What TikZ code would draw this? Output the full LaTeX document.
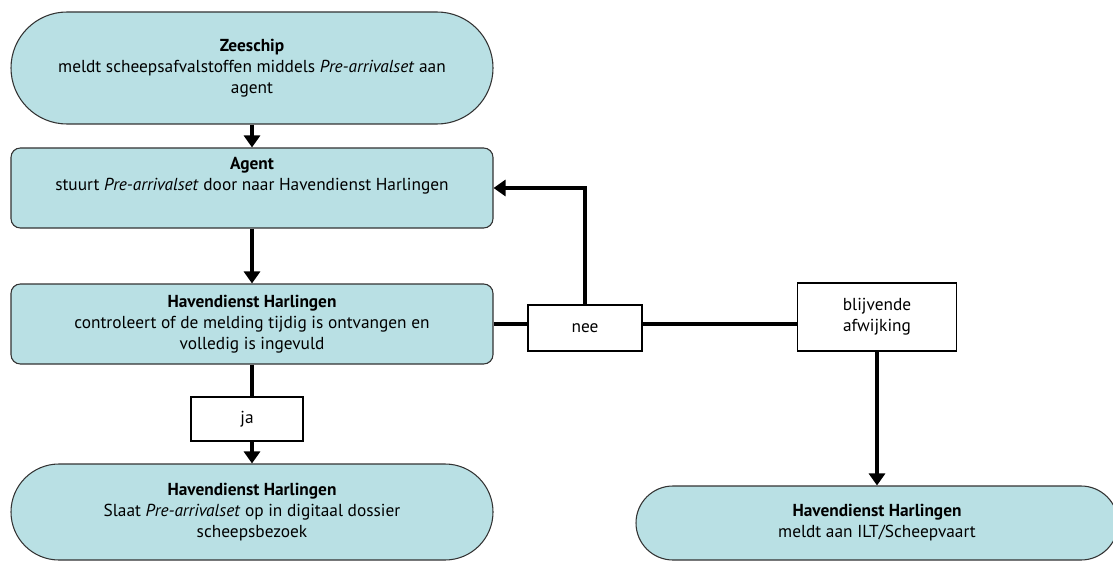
\documentclass[tikz,border=0pt]{standalone}
\usepackage{fontspec}
\setmainfont{PT Sans}
\usetikzlibrary{arrows.meta}
\definecolor{tealfill}{HTML}{B9E0E4}

\begin{document}
\begin{tikzpicture}[x=0.75pt,y=-0.75pt,
    every node/.style={font=\fontsize{13}{15.8}\selectfont, align=center},
    stap/.style={draw=black!80, line width=0.8pt, fill=tealfill, inner sep=0pt, minimum width=361.5pt},
    keuze/.style={draw=black, line width=1.1pt, fill=white, inner sep=0pt},
    lijn/.style={line width=3.4pt},
    pijl/.style={line width=3.4pt, -{Triangle[length=9pt,width=12pt]}}]
    \useasboundingbox (0,0) rectangle (1113,563);

    % Processtappen
    \node[stap, minimum height=84pt, rounded corners=42pt] (zee) at (252,68)
        {\textbf{Zeeschip}\\ meldt scheepsafvalstoffen middels \textit{Pre-arrivalset} aan\\ agent};
    \node[stap, minimum height=60pt, rounded corners=7pt] (agent) at (252,188)
        {\textbf{Agent}\\ stuurt \textit{Pre-arrivalset} door naar Havendienst Harlingen\\ \strut};
    \node[stap, minimum height=60pt, rounded corners=7pt] (hh1) at (252,324)
        {\textbf{Havendienst Harlingen}\\ controleert of de melding tijdig is ontvangen en\\ volledig is ingevuld};
    \node[stap, minimum height=72pt, rounded corners=36pt] (dossier) at (252,512)
        {\textbf{Havendienst Harlingen}\\ Slaat \textit{Pre-arrivalset} op in digitaal dossier\\ scheepsbezoek};
    \node[stap, minimum height=55.5pt, rounded corners=27.75pt] (ilt) at (877,523)
        {\textbf{Havendienst Harlingen}\\ meldt aan ILT/Scheepvaart};

    % Keuzes
    \node[keuze, minimum width=84pt, minimum height=33pt] (ja) at (247,419) {ja};
    \node[keuze, minimum width=85.5pt, minimum height=34.5pt] (nee) at (585,328) {nee};
    \node[keuze, minimum width=119pt, minimum height=51pt] (blijv) at (877,317) {blijvende\\ afwijking};

    % Verbindingen
    \draw[pijl] (zee) -- (agent);
    \draw[pijl] (agent) -- (hh1);
    \draw[lijn] (hh1.south) -- (hh1.south |- ja.north);
    \draw[pijl] (ja.south -| hh1.south) -- (dossier.north);
    \draw[lijn] (hh1.east) -- (hh1.east -| nee.west);
    \draw[pijl] (nee.north) |- (agent.east);
    \draw[lijn] (nee.east |- hh1.east) -- (blijv.west |- hh1.east);
    \draw[pijl] (blijv.south) -- (ilt.north);
\end{tikzpicture}
\end{document}
